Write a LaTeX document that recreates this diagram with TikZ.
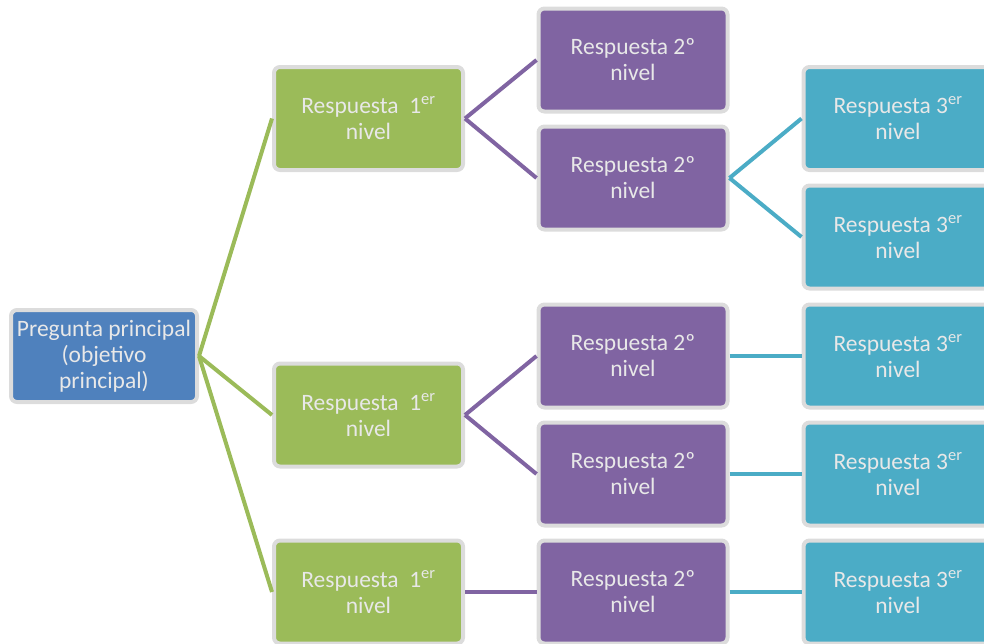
\documentclass[tikz,border=0pt]{standalone}
\usepackage{fontspec}
\setmainfont{Carlito}
\definecolor{cblue}{HTML}{4F81BD}
\definecolor{cgreen}{HTML}{9BBB59}
\definecolor{cpurple}{HTML}{8064A2}
\definecolor{cteal}{HTML}{4BACC6}
\definecolor{cborder}{HTML}{DCDCDC}
\definecolor{ctext}{HTML}{E8E8E8}
\begin{document}
\begin{tikzpicture}[x=1pt,y=-1pt,
  box/.style={draw=cborder, line width=4pt, rounded corners=6pt,
    minimum width=189pt, minimum height=103pt, inner sep=0pt,
    align=center, text=ctext, font=\fontsize{23.5}{26}\selectfont},
  rootbox/.style={box, fill=cblue, minimum width=186pt, minimum height=92pt},
  lvla/.style={box, fill=cgreen},
  lvlb/.style={box, fill=cpurple},
  lvlc/.style={box, fill=cteal},
  link/.style={line width=4pt}
]
\useasboundingbox (0,0) rectangle (984,643);
\node[rootbox] (r) at (104,356) {Pregunta principal\\(objetivo\\principal)};
\node[lvla] (g1) at (368.5,118.5) {Respuesta\hspace{0.45em}1\textsuperscript{er}\\nivel};
\node[lvla] (g2) at (368.5,415) {Respuesta\hspace{0.45em}1\textsuperscript{er}\\nivel};
\node[lvla] (g3) at (368.5,592) {Respuesta\hspace{0.45em}1\textsuperscript{er}\\nivel};
\node[lvlb] (p1) at (633,60) {Respuesta 2º\\nivel};
\node[lvlb] (p2) at (633,178) {Respuesta 2º\\nivel};
\node[lvlb] (p3) at (633,356) {Respuesta 2º\\nivel};
\node[lvlb] (p4) at (633,474) {Respuesta 2º\\nivel};
\node[lvlb] (p5) at (633,592) {Respuesta 2º\\nivel};
\node[lvlc] (t1) at (898,118.5) {Respuesta 3\textsuperscript{er}\\nivel};
\node[lvlc] (t2) at (898,237) {Respuesta 3\textsuperscript{er}\\nivel};
\node[lvlc] (t3) at (898,356) {Respuesta 3\textsuperscript{er}\\nivel};
\node[lvlc] (t4) at (898,474) {Respuesta 3\textsuperscript{er}\\nivel};
\node[lvlc] (t5) at (898,592) {Respuesta 3\textsuperscript{er}\\nivel};
\begin{scope}[link, draw=cgreen]
\draw (r.east) -- (g1.west);
\draw (r.east) -- (g2.west);
\draw (r.east) -- (g3.west);
\end{scope}
\begin{scope}[link, draw=cpurple]
\draw (g1.east) -- (p1.west);
\draw (g1.east) -- (p2.west);
\draw (g2.east) -- (p3.west);
\draw (g2.east) -- (p4.west);
\draw (g3.east) -- (p5.west);
\end{scope}
\begin{scope}[link, draw=cteal]
\draw (p2.east) -- (t1.west);
\draw (p2.east) -- (t2.west);
\draw (p3.east) -- (t3.west);
\draw (p4.east) -- (t4.west);
\draw (p5.east) -- (t5.west);
\end{scope}
\end{tikzpicture}
\end{document}
